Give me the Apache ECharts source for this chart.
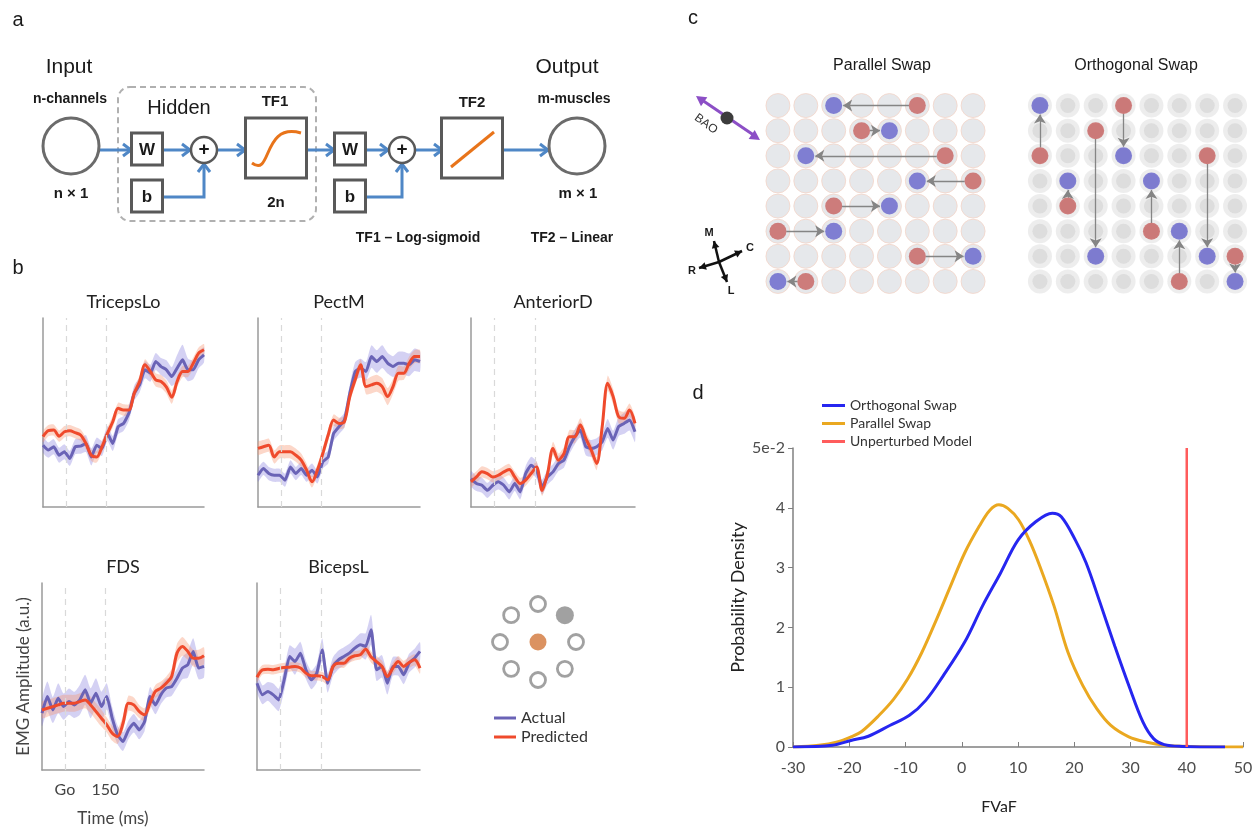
<!DOCTYPE html>
<html>
<head>
<meta charset="utf-8">
<title>EMG decoder figure</title>
<script src="https://cdn.jsdelivr.net/npm/echarts@6/dist/echarts.min.js"></script>
<style>
html,body{margin:0;padding:0;background:#fff;}
#main{width:1260px;height:831px;}
</style>
</head>
<body>
<div id="main"></div>
<script>
// ---- panel b : EMG traces, normalised amplitude (0-100), one sample every 20 ms ----
var times = [-85,-65,-45,-25,-5,15,35,55,75,95,115,135,155,175,195,215,235,255,275,295,315,335,355,375,395,415,435,455,475,495,515];
var goLines = [0, 150];

var tricepsAct     = [32.7,30.1,31.9,27.4,29.2,25.7,31.9,32.2,33.6,26.5,32.7,31.0,38.9,33.6,42.5,44.2,49.6,60.2,64.6,72.6,70.8,77.0,74.3,72.6,69.0,73.5,77.9,72.6,72.6,77.9,80.5];
var tricepsActErr  = [4,4,4,4,4,4,4,4,4.5,4.5,4,4,4,4,4,4,4,4,4,4.5,4.5,4.5,4.5,5,5,7,8,6,5,4.5,4];
var tricepsPred    = [37.2,40.4,40.7,37.5,39.8,40.4,39.3,38.1,33.6,27.4,26.5,31.9,38.9,45.1,52.2,51.3,51.3,60.2,66.4,75.2,71.7,67.3,66.4,63.4,58.1,66.4,71.7,71.7,76.1,81.4,83.2];
var tricepsPredErr = [3,3,3,3,3,3,3,3,3,3,3,3,3,3,3,3,3,3,3,3,3,3.5,3.5,3.5,3.5,3,3,3,3,3,3];

var pectAct     = [16.8,20.4,17.7,16.8,16.8,14.2,21.2,17.7,20.4,16.8,19.5,15.9,23.9,26.5,38.9,42.5,46.0,60.2,71.7,73.5,71.7,79.6,77.0,79.6,76.1,74.3,76.1,76.1,75.2,77.9,77.0];
var pectActErr  = [3.5,3.5,3.5,3.5,3.5,3.5,3.5,3.5,3.5,3.5,3.5,3.5,3.5,3.5,4,4,4,4.5,5,5,5,6,6,6,5.5,5.5,6,6,6,6,5.5];
var pectPred    = [31.0,31.9,32.7,26.5,29.2,29.2,29.2,27.4,24.8,19.5,13.3,19.5,28.3,38.1,46.0,44.2,45.1,58.4,67.3,75.2,63.7,64.6,65.5,63.7,58.4,63.7,70.8,70.8,76.1,79.6,79.6];
var pectPredErr = [3.5,3.5,3.5,3.5,3.5,3.5,3.5,3.5,3.5,3.5,3,3,3,3,3,3,3,3,3,3,4,4.5,4.5,4.5,4.5,4,4,3.5,3.5,3.5,3.5];

var antAct     = [15.0,12.4,11.5,8.8,11.5,13.3,11.5,8.0,12.4,8.0,17.7,22.1,19.5,10.6,15.9,18.6,23.0,24.8,31.9,37.2,40.7,31.9,31.0,31.9,34.5,41.6,35.4,42.5,44.2,46.0,39.8];
var antActErr  = [4,4,4,4,4,4,4,4,4,4,4,4.5,4.5,4,4,4,4,4,4,4,4,4.5,4.5,4.5,4.5,5,5,5,5.5,5.5,5.5];
var antPred    = [13.3,15.9,18.6,17.7,15.9,16.8,18.6,19.8,15.9,12.4,14.2,17.7,21.2,8.8,17.7,31.0,24.8,28.3,37.2,37.2,43.4,36.3,30.1,23.0,42.5,65.5,58.4,47.8,46.9,51.3,44.2];
var antPredErr = [3,3,3,3,3,3,3,3,3,3,3,3,3,3,3,3.5,3.5,3.5,3.5,3.5,3.5,3.5,3.5,3.5,4,4,4,3.5,3.5,3.5,3.5];

var fdsAct     = [30.4,39.3,32.1,38.4,33.9,36.6,34.8,37.5,42.9,35.7,41.1,33.9,39.3,27.7,18.8,15.2,21.4,25.0,21.4,25.9,39.3,34.8,40.2,43.8,44.6,49.1,54.5,56.3,63.4,54.5,55.4];
var fdsActErr  = [7,8,7,8,7,7,7,8,8,8,8,8,7,6,5,5,5,5,5,5,5,5,5,5,5,5,6,7,7,6,6];
var fdsPred    = [32.1,33.0,33.9,34.8,35.7,35.7,35.7,36.6,37.5,34.8,31.3,27.7,24.1,19.6,17.9,25.0,35.7,34.8,31.3,29.5,35.7,42.0,43.8,46.4,50.0,62.5,66.1,63.4,59.8,59.8,61.1];
var fdsPredErr = [4.5,4.5,4.5,4.5,4.5,4.5,4.5,4.5,4.5,4.5,4.5,4.5,4,4,4,4,4,4,3.5,3.5,3.5,3.5,3.5,3.5,4,5,5,4.5,4.5,4.5,4.5];

var bicAct     = [46.4,40.2,42.0,40.2,37.5,48.2,60.7,58.0,62.5,53.6,48.2,51.8,64.3,46.4,55.4,58.9,60.7,62.5,65.2,67.0,66.1,75.0,53.6,55.4,46.4,55.4,55.4,50.9,57.1,59.8,63.4];
var bicActErr  = [5,5,5,6,6,6,6,7,6,5,5,5,6,5,5,5,5,5,5,6,7,8,6,6,6,5,5,5,5,5,5];
var bicPred    = [49.6,53.6,53.9,53.6,54.3,54.8,55.0,55.4,54.5,51.8,50.4,50.4,50.0,48.2,55.4,57.1,57.1,59.8,61.1,61.6,64.6,60.4,58.0,55.4,50.0,54.5,58.0,55.4,57.5,58.9,54.5];
var bicPredErr = [2.5,2.5,2.5,2.5,2.5,2.5,2.5,2.5,2.5,2.5,2.5,2.5,2.5,2.5,2.5,2.5,2.5,2.5,2.5,2.5,3,3,3,3,3,3,3,3,3,3,3];

// reach targets (legend of panel b)
var targetAngles = [0,45,90,135,180,225,270,315];
var activeTarget = 45;

// ---- panel c : swapped electrode pairs on the 8x8 array ----
// parallel: [row, red col, blue col]
var parallelSwaps = [[0,5,2],[1,3,4],[2,6,1],[3,7,5],[4,2,4],[5,0,2],[6,5,7],[7,1,0]];
// orthogonal: [col, red row, blue row]
var orthogonalSwaps = [[0,2,0],[1,4,3],[2,1,6],[3,0,2],[4,5,3],[5,7,5],[6,2,6],[7,6,7]];
var gridIdx = [0,1,2,3,4,5,6,7];

// ---- panel d : FVaF densities (x 1e-2) ----
var orthoX = [-30,-23,-19.7,-16.6,-12.8,-9.3,-6.4,-3.3,0.5,3.7,6.9,10,13.2,16.1,17.7,20.2,22.1,24.6,27.2,29.7,32.2,34.1,36,39.2,46.8];
var orthoY = [0,0.03,0.11,0.18,0.36,0.53,0.78,1.19,1.75,2.36,2.91,3.46,3.77,3.91,3.85,3.46,3.08,2.41,1.69,1.03,0.42,0.14,0.04,0.01,0];
var paraX = [-30,-25.4,-22.3,-19.7,-17.8,-14.7,-12.1,-9.6,-7.1,-4.5,-2,0.5,3.1,5,6.6,8.2,10.1,12,13.9,16.4,18.9,21.5,24,26.5,29.7,32.9,36,40.5,50];
var paraY = [0,0.03,0.08,0.17,0.26,0.53,0.8,1.14,1.58,2.13,2.69,3.24,3.69,3.96,4.05,3.99,3.8,3.46,3.02,2.36,1.58,1.03,0.64,0.36,0.17,0.08,0.03,0.01,0];
var unperturbedX = 40;
var unperturbedY = [0, 5];

var SANS = '"Liberation Sans", Arial, sans-serif';
var MYR = 'Lato, "Noto Sans", sans-serif';
var ACT = '#6a63b6', PRED = '#ef4a2c';

var chart = echarts.init(document.getElementById('main'));

var panels = [
  {title:'TricepsLo', act:tricepsAct, actErr:tricepsActErr, pred:tricepsPred, predErr:tricepsPredErr, box:[43,318,161,189]},
  {title:'PectM', act:pectAct, actErr:pectActErr, pred:pectPred, predErr:pectPredErr, box:[258,318,162,189]},
  {title:'AnteriorD', act:antAct, actErr:antActErr, pred:antPred, predErr:antPredErr, box:[471,318,164,189]},
  {title:'FDS', act:fdsAct, actErr:fdsActErr, pred:fdsPred, predErr:fdsPredErr, box:[42,583,162,187]},
  {title:'BicepsL', act:bicAct, actErr:bicActErr, pred:bicPred, predErr:bicPredErr, box:[257,583,163,187]}
];

var grids = [], xAxes = [], yAxes = [], series = [], gfx = [];

function txt(x, y, s, size, opt) {
  var style = {text: s, fontSize: size, fontFamily: SANS, fill: '#1a1a1a', align: 'center', verticalAlign: 'middle'};
  opt = opt || {};
  for (var k in opt) if (k !== 'rotation') style[k] = opt[k];
  return {type: 'text', x: x, y: y, rotation: opt.rotation || 0, style: style, silent: true};
}

function bandSeries(gi, vals, errs, color, marks) {
  var rows = times.map(function (t, i) { return [t, vals[i] - errs[i], vals[i] + errs[i]]; });
  var s = {
    type: 'custom', xAxisIndex: gi, yAxisIndex: gi, silent: true, z: 1,
    data: rows, encode: {x: 0, y: [1, 2]},
    renderItem: function (params, api) {
      if (params.dataIndex !== 0) return null;
      var top = [], bot = [];
      rows.forEach(function (r) {
        top.push(api.coord([r[0], r[2]]));
        bot.unshift(api.coord([r[0], r[1]]));
      });
      return {type: 'polygon', shape: {points: top.concat(bot), smooth: 0.2}, style: {fill: color}};
    }
  };
  if (marks) {
    s.markLine = {silent: true, symbol: 'none', label: {show: false},
      lineStyle: {type: [6, 5], color: '#d9d9d9', width: 1.2},
      data: goLines.map(function (v) { return {xAxis: v}; })};
  }
  return s;
}

panels.forEach(function (p, gi) {
  var b = p.box;
  grids.push({left: b[0], top: b[1], width: b[2], height: b[3]});
  var isFds = p.title === 'FDS';
  xAxes.push({
    type: 'value', gridIndex: gi, min: -85, max: 515,
    axisLine: {show: true, lineStyle: {color: '#9a9a9a', width: 1.5}},
    axisTick: {show: true, customValues: goLines, inside: true, length: 4, lineStyle: {color: '#9a9a9a'}},
    axisLabel: {show: isFds, customValues: goLines, margin: 12, fontSize: 16, fontFamily: MYR, color: '#444',
      formatter: function (v) { return v === 0 ? 'Go' : String(v); }},
    splitLine: {show: false},
    name: isFds ? 'Time (ms)' : '', nameLocation: 'middle', nameGap: 40,
    nameTextStyle: {fontSize: 17, fontFamily: MYR, color: '#444', padding: [0, 20, 0, 0]}
  });
  yAxes.push({
    type: 'value', gridIndex: gi, min: 0, max: 100,
    axisLine: {show: true, onZero: false, lineStyle: {color: '#9a9a9a', width: 1.5}},
    axisTick: {show: false}, axisLabel: {show: false}, splitLine: {show: false},
    name: isFds ? 'EMG Amplitude (a.u.)' : '', nameLocation: 'middle', nameGap: 10,
    nameTextStyle: {fontSize: 17, fontFamily: MYR, color: '#444'}
  });
  series.push(bandSeries(gi, p.act, p.actErr, 'rgba(112,104,214,0.3)', true));
  series.push(bandSeries(gi, p.pred, p.predErr, 'rgba(248,150,112,0.38)', false));
  series.push({type: 'line', name: 'Actual', xAxisIndex: gi, yAxisIndex: gi, z: 3, silent: true, smooth: 0.15,
    data: times.map(function (t, i) { return [t, p.act[i]]; }), showSymbol: false,
    lineStyle: {width: 3, color: ACT}, itemStyle: {color: ACT}});
  series.push({type: 'line', name: 'Predicted', xAxisIndex: gi, yAxisIndex: gi, z: 4, silent: true, smooth: 0.3,
    data: times.map(function (t, i) { return [t, p.pred[i]]; }), showSymbol: false,
    lineStyle: {width: 3, color: PRED}, itemStyle: {color: PRED}});
  gfx.push(txt(b[0] + b[2] / 2, b[1] - 16, p.title, 18, {fontFamily: MYR, fill: '#222'}));
});

// target diagram on a polar system
series.push({type: 'scatter', coordinateSystem: 'polar', silent: true, z: 5,
  data: targetAngles.filter(function (a) { return a !== activeTarget; }).map(function (a) { return [1, a]; }),
  symbolSize: 15, itemStyle: {color: '#fff', borderColor: '#8a8a8a', borderWidth: 2.8}});
series.push({type: 'scatter', coordinateSystem: 'polar', silent: true, z: 5,
  data: [[1, activeTarget]], symbolSize: 18, itemStyle: {color: '#8a8a8a'}});
series.push({type: 'scatter', coordinateSystem: 'polar', silent: true, z: 5,
  data: [[0, 0]], symbolSize: 17, itemStyle: {color: '#d2773a'}});

// ---- panel d ----
var gD = grids.length;
grids.push({left: 793, top: 448, width: 450, height: 299});
xAxes.push({type: 'value', gridIndex: gD, min: -30, max: 50, interval: 10,
  axisLine: {show: true, onZero: false, lineStyle: {color: '#808080', width: 1.5}},
  axisTick: {show: true, inside: true, length: 5, lineStyle: {color: '#808080'}},
  axisLabel: {fontSize: 16, fontFamily: MYR, color: '#4d4d4d', margin: 13},
  splitLine: {show: false},
  name: 'FVaF', nameLocation: 'middle', nameGap: 52,
  nameTextStyle: {fontSize: 16, fontFamily: MYR, color: '#222', padding: [0, 38, 0, 0]}});
yAxes.push({type: 'value', gridIndex: gD, min: 0, max: 5, interval: 1,
  axisLine: {show: true, onZero: false, lineStyle: {color: '#808080', width: 1.5}},
  axisTick: {show: true, inside: false, length: 5, lineStyle: {color: '#808080'}},
  axisLabel: {fontSize: 16, fontFamily: MYR, color: '#4d4d4d', margin: 8,
    formatter: function (v) { return v === 5 ? '5e-2' : String(v); }},
  splitLine: {show: false},
  name: 'Probability Density', nameLocation: 'middle', nameGap: 46,
  nameTextStyle: {fontSize: 18, fontFamily: MYR, color: '#222'}});
series.push({type: 'line', name: 'Orthogonal Swap', xAxisIndex: gD, yAxisIndex: gD, smooth: 0.35, showSymbol: false, silent: true,
  data: orthoX.map(function (x, i) { return [x, orthoY[i]]; }), lineStyle: {width: 3, color: '#2626f0'}, itemStyle: {color: '#2626f0'}, z: 4});
series.push({type: 'line', name: 'Parallel Swap', xAxisIndex: gD, yAxisIndex: gD, smooth: 0.35, showSymbol: false, silent: true,
  data: paraX.map(function (x, i) { return [x, paraY[i]]; }), lineStyle: {width: 3, color: '#eaa820'}, itemStyle: {color: '#eaa820'}, z: 3});
series.push({type: 'line', name: 'Unperturbed Model', xAxisIndex: gD, yAxisIndex: gD, showSymbol: false, silent: true,
  data: unperturbedY.map(function (y) { return [unperturbedX, y]; }), lineStyle: {width: 2.5, color: '#ff5c5c'}, itemStyle: {color: '#ff5c5c'}, z: 5});

// ---- panel c : two 8x8 grids ----
var gP = grids.length;
grids.push({left: 764, top: 93, width: 223, height: 201});
var gO = grids.length;
grids.push({left: 1026, top: 93, width: 223, height: 201});
[gP, gO].forEach(function (g) {
  xAxes.push({type: 'value', gridIndex: g, min: -0.5, max: 7.5, show: false});
  yAxes.push({type: 'value', gridIndex: g, min: -0.5, max: 7.5, inverse: true, show: false});
});
var cells = [];
gridIdx.forEach(function (r) { gridIdx.forEach(function (c) { cells.push([c, r]); }); });

series.push({type: 'scatter', xAxisIndex: gP, yAxisIndex: gP, silent: true, data: cells, symbolSize: 24, z: 1,
  itemStyle: {color: '#e0e2e6', borderColor: '#f4d4c8', borderWidth: 1}});
series.push({type: 'scatter', xAxisIndex: gO, yAxisIndex: gO, silent: true, data: cells, symbolSize: 24, z: 1,
  itemStyle: {color: '#e8e8e8'}});
series.push({type: 'scatter', xAxisIndex: gO, yAxisIndex: gO, silent: true, data: cells, symbolSize: 15, z: 1,
  itemStyle: {color: '#d8d8d8'}});

function swapArrow(from, to, sFrom, sTo) {
  var dx = Math.sign(to[0] - from[0]), dy = Math.sign(to[1] - from[1]);
  return {coords: [[from[0] + dx * sFrom, from[1] + dy * sFrom], [to[0] - dx * sTo, to[1] - dy * sTo]]};
}
var arrowStyle = {type: 'lines', coordinateSystem: 'cartesian2d', silent: true, z: 2,
  symbol: ['none', 'arrow'], symbolSize: 9, lineStyle: {color: '#858585', width: 1.3, opacity: 1}};

series.push(Object.assign({}, arrowStyle, {xAxisIndex: gP, yAxisIndex: gP,
  data: parallelSwaps.map(function (s) { return swapArrow([s[1], s[0]], [s[2], s[0]], 0.3, 0.34); })}));
series.push(Object.assign({}, arrowStyle, {xAxisIndex: gO, yAxisIndex: gO,
  data: orthogonalSwaps.map(function (s) { return swapArrow([s[0], s[1]], [s[0], s[2]], 0.33, 0.36); })}));

series.push({type: 'scatter', xAxisIndex: gP, yAxisIndex: gP, silent: true, z: 3, symbolSize: 17,
  data: parallelSwaps.map(function (s) { return [s[1], s[0]]; }), itemStyle: {color: '#c7605f'}});
series.push({type: 'scatter', xAxisIndex: gP, yAxisIndex: gP, silent: true, z: 3, symbolSize: 17,
  data: parallelSwaps.map(function (s) { return [s[2], s[0]]; }), itemStyle: {color: '#6563cc'}});
series.push({type: 'scatter', xAxisIndex: gO, yAxisIndex: gO, silent: true, z: 3, symbolSize: 17,
  data: orthogonalSwaps.map(function (s) { return [s[0], s[1]]; }), itemStyle: {color: '#c7605f'}});
series.push({type: 'scatter', xAxisIndex: gO, yAxisIndex: gO, silent: true, z: 3, symbolSize: 17,
  data: orthogonalSwaps.map(function (s) { return [s[0], s[2]]; }), itemStyle: {color: '#6563cc'}});

gfx.push(txt(882, 66, 'Parallel Swap', 16));
gfx.push(txt(1136, 66, 'Orthogonal Swap', 16));

// ---- schematic drawing helpers (panel a, panel c insets) ----
function rectBox(cx, cy, w, h) {
  return {type: 'rect', shape: {x: cx - w / 2, y: cy - h / 2, width: w, height: h},
    style: {fill: '#fff', stroke: '#595959', lineWidth: 3}, silent: true};
}
function ring(cx, cy, r, lw, color) {
  return {type: 'circle', shape: {cx: cx, cy: cy, r: r}, style: {fill: '#fff', stroke: color || '#595959', lineWidth: lw}, silent: true};
}
function openArrow(pts, color, lw) {
  var n = pts.length, tip = pts[n - 1], prev = pts[n - 2];
  var dx = tip[0] - prev[0], dy = tip[1] - prev[1], L = Math.sqrt(dx * dx + dy * dy);
  dx /= L; dy /= L;
  var hl = 8, hw = 6;
  gfx.push({type: 'polyline', shape: {points: pts}, style: {stroke: color, lineWidth: lw, fill: null}, silent: true});
  gfx.push({type: 'polyline', shape: {points: [[tip[0] - dx * hl - dy * hw, tip[1] - dy * hl + dx * hw], tip,
    [tip[0] - dx * hl + dy * hw, tip[1] - dy * hl - dx * hw]]}, style: {stroke: color, lineWidth: lw, fill: null}, silent: true});
}
function solidHead(tip, from, size, color) {
  var dx = tip[0] - from[0], dy = tip[1] - from[1], L = Math.sqrt(dx * dx + dy * dy);
  dx /= L; dy /= L;
  gfx.push({type: 'polygon', shape: {points: [tip, [tip[0] - dx * size - dy * size * 0.55, tip[1] - dy * size + dx * size * 0.55],
    [tip[0] - dx * size + dy * size * 0.55, tip[1] - dy * size - dx * size * 0.55]]}, style: {fill: color}, silent: true});
}

// panel a
var NET = '#4f87c6';
gfx.push({type: 'rect', shape: {x: 118, y: 87, width: 198, height: 134, r: 12},
  style: {fill: null, stroke: '#b0b0b0', lineWidth: 2, lineDash: [6, 4]}, silent: true});
[[[99,150],[131,150]], [[163,150],[190,150]], [[218,150],[245,150]], [[163,197],[204,197],[204,164]],
 [[307,150],[334,150]], [[366,150],[388,150]], [[416,150],[442,150]], [[366,197],[402,197],[402,164]],
 [[503,150],[548,150]]].forEach(function (p) { openArrow(p, NET, 3); });
gfx.push(ring(71, 146, 28, 3, '#6b6b6b'));
gfx.push(ring(577, 146, 28, 3, '#6b6b6b'));
gfx.push(rectBox(147, 149, 31, 32));
gfx.push(rectBox(147, 196, 31, 32));
gfx.push(rectBox(350, 149, 31, 32));
gfx.push(rectBox(350, 196, 31, 32));
gfx.push(rectBox(276, 148, 61, 60));
gfx.push(rectBox(472, 148, 61, 60));
gfx.push(ring(204, 150, 13, 2.5));
gfx.push(ring(402, 150, 13, 2.5));
gfx.push({type: 'bezierCurve', shape: {x1: 252, y1: 163, cpx1: 272, cpy1: 178, cpx2: 262, cpy2: 122, x2: 301, y2: 133},
  style: {stroke: '#e8741a', lineWidth: 3, fill: null}, silent: true});
gfx.push({type: 'line', shape: {x1: 451, y1: 167, x2: 494, y2: 132}, style: {stroke: '#e8741a', lineWidth: 3}, silent: true});
gfx.push(txt(204, 150, '+', 19, {fontWeight: 'bold'}));
gfx.push(txt(402, 150, '+', 19, {fontWeight: 'bold'}));
gfx.push(txt(147, 150, 'W', 17, {fontWeight: 'bold'}));
gfx.push(txt(350, 150, 'W', 17, {fontWeight: 'bold'}));
gfx.push(txt(147, 197, 'b', 17, {fontWeight: 'bold'}));
gfx.push(txt(350, 197, 'b', 17, {fontWeight: 'bold'}));
gfx.push(txt(69, 67, 'Input', 21));
gfx.push(txt(567, 67, 'Output', 21));
gfx.push(txt(179, 108, 'Hidden', 20));
gfx.push(txt(70, 99, 'n-channels', 14, {fontWeight: 'bold'}));
gfx.push(txt(574, 99, 'm-muscles', 14, {fontWeight: 'bold'}));
gfx.push(txt(275, 102, 'TF1', 15, {fontWeight: 'bold'}));
gfx.push(txt(472, 103, 'TF2', 15, {fontWeight: 'bold'}));
gfx.push(txt(276, 203, '2n', 15, {fontWeight: 'bold'}));
gfx.push(txt(71, 194, 'n \u00d7 1', 15, {fontWeight: 'bold'}));
gfx.push(txt(578, 194, 'm \u00d7 1', 15, {fontWeight: 'bold'}));
gfx.push(txt(418, 238, 'TF1 \u2013 Log-sigmoid', 14, {fontWeight: 'bold'}));
gfx.push(txt(572, 238, 'TF2 \u2013 Linear', 14, {fontWeight: 'bold'}));

// panel c : BAO axis and compass
gfx.push({type: 'line', shape: {x1: 702, y1: 100, x2: 755, y2: 136}, style: {stroke: '#8c4fc6', lineWidth: 3}, silent: true});
solidHead([696, 96], [727, 118], 10, '#8c4fc6');
solidHead([760, 140], [727, 118], 10, '#8c4fc6');
gfx.push({type: 'circle', shape: {cx: 727, cy: 118, r: 6.5}, style: {fill: '#3c3c3c'}, silent: true});
gfx.push(txt(706, 124, 'BAO', 12, {rotation: -0.62, fill: '#333'}));
[[714, 241], [742, 251], [699, 268], [727, 282]].forEach(function (t) {
  gfx.push({type: 'line', shape: {x1: 719, y1: 262, x2: t[0], y2: t[1]}, style: {stroke: '#111', lineWidth: 2.5}, silent: true});
  solidHead(t, [719, 262], 7, '#111');
});
gfx.push(txt(709, 233, 'M', 11, {fontWeight: 'bold'}));
gfx.push(txt(750, 248, 'C', 11, {fontWeight: 'bold'}));
gfx.push(txt(692, 271, 'R', 11, {fontWeight: 'bold'}));
gfx.push(txt(731, 291, 'L', 11, {fontWeight: 'bold'}));

// panel letters
gfx.push(txt(18, 20, 'a', 20));
gfx.push(txt(18, 268, 'b', 20));
gfx.push(txt(693, 18, 'c', 20));
gfx.push(txt(698, 393, 'd', 20));

chart.setOption({
  animation: false,
  backgroundColor: '#fff',
  grid: grids,
  xAxis: xAxes,
  yAxis: yAxes,
  polar: {center: [538, 642], radius: 38},
  angleAxis: {type: 'value', min: 0, max: 360, startAngle: 0, clockwise: false, show: false},
  radiusAxis: {type: 'value', min: 0, max: 1, show: false},
  legend: [
    {data: ['Actual', 'Predicted'], left: 494, top: 710, padding: 0, orient: 'vertical', itemGap: 3, itemWidth: 22, itemHeight: 3,
      icon: 'rect', selectedMode: false, textStyle: {fontSize: 16, fontFamily: MYR, color: '#333', lineHeight: 16}},
    {data: ['Orthogonal Swap', 'Parallel Swap', 'Unperturbed Model'], left: 822, top: 398, padding: 0, orient: 'vertical', itemGap: 3,
      itemWidth: 23, itemHeight: 3, icon: 'rect', selectedMode: false,
      textStyle: {fontSize: 14, fontFamily: MYR, color: '#333', lineHeight: 15}}
  ],
  graphic: gfx,
  series: series
});
</script>
</body>
</html>
